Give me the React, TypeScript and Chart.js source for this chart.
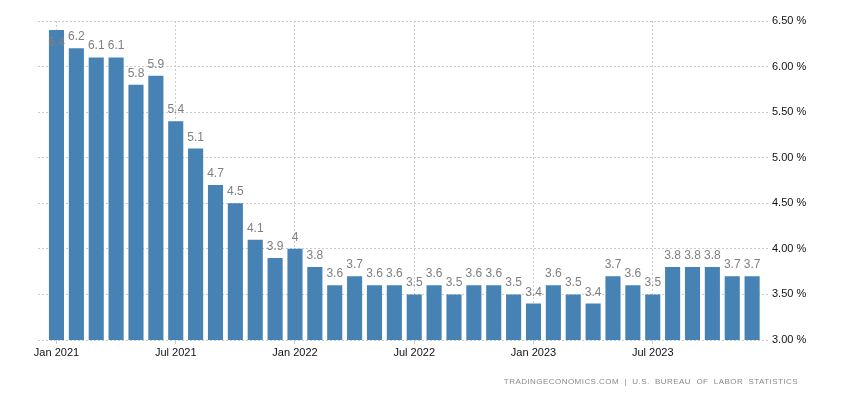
import React, { useEffect, useRef } from 'react';
import { Chart, registerables } from 'chart.js';

Chart.register(...registerables);

const months = [
  'Jan 2021', 'Feb 2021', 'Mar 2021', 'Apr 2021', 'May 2021', 'Jun 2021',
  'Jul 2021', 'Aug 2021', 'Sep 2021', 'Oct 2021', 'Nov 2021', 'Dec 2021',
  'Jan 2022', 'Feb 2022', 'Mar 2022', 'Apr 2022', 'May 2022', 'Jun 2022',
  'Jul 2022', 'Aug 2022', 'Sep 2022', 'Oct 2022', 'Nov 2022', 'Dec 2022',
  'Jan 2023', 'Feb 2023', 'Mar 2023', 'Apr 2023', 'May 2023', 'Jun 2023',
  'Jul 2023', 'Aug 2023', 'Sep 2023', 'Oct 2023', 'Nov 2023', 'Dec 2023',
];

const rates = [
  6.4, 6.2, 6.1, 6.1, 5.8, 5.9, 5.4, 5.1, 4.7, 4.5, 4.1, 3.9,
  4.0, 3.8, 3.6, 3.7, 3.6, 3.6, 3.5, 3.6, 3.5, 3.6, 3.6, 3.5,
  3.4, 3.6, 3.5, 3.4, 3.7, 3.6, 3.5, 3.8, 3.8, 3.8, 3.7, 3.7,
];

const xTickLabels = ['Jan 2021', 'Jul 2021', 'Jan 2022', 'Jul 2022', 'Jan 2023', 'Jul 2023'];
const yTicks = [3.0, 3.5, 4.0, 4.5, 5.0, 5.5, 6.0, 6.5];

const FONT = '"Liberation Sans", Arial, sans-serif';

const valueLabels = {
  id: 'valueLabels',
  afterDatasetsDraw(chart: any) {
    const ctx = chart.ctx;
    const meta = chart.getDatasetMeta(0);
    ctx.save();
    ctx.font = `12px ${FONT}`;
    ctx.fillStyle = '#808080';
    ctx.textAlign = 'center';
    ctx.textBaseline = 'alphabetic';
    meta.data.forEach((bar: any, i: number) => {
      let y = bar.y - 8;
      if (y - 9 < chart.chartArea.top) y = bar.y + 16;
      ctx.fillText(String(rates[i]), bar.x, y);
    });
    ctx.restore();
  },
};

export default function App() {
  const ref = useRef<HTMLCanvasElement | null>(null);

  useEffect(() => {
    if (!ref.current) return;
    const xTickIdx = xTickLabels.map((l) => months.indexOf(l));
    const chart = new Chart(ref.current, {
      type: 'bar',
      data: {
        datasets: [
          {
            data: rates.map((v, i) => ({ x: i, y: v })),
            backgroundColor: '#4682B4',
            borderWidth: 0,
            barPercentage: 0.76,
            categoryPercentage: 1,
          },
        ],
      },
      options: {
        animation: false,
        responsive: false,
        events: [],
        layout: { padding: { left: 38, top: 21, right: 0, bottom: 0 } },
        plugins: { legend: { display: false }, tooltip: { enabled: false } },
        scales: {
          x: {
            type: 'linear',
            min: -0.93,
            max: 35.9,
            offset: false,
            afterBuildTicks: (s: any) => {
              s.ticks = xTickIdx.map((v) => ({ value: v }));
            },
            afterFit: (s: any) => {
              s.height = 60;
            },
            ticks: {
              autoSkip: false,
              maxRotation: 0,
              padding: 2,
              color: '#111',
              font: { family: FONT, size: 11 },
              callback: (v: any) => months[Math.round(Number(v))] ?? '',
            },
            grid: { color: '#cccccc', tickLength: 4, offset: false },
            border: { display: false, dash: [2, 2] },
          },
          y: {
            position: 'right',
            min: 3,
            max: 6.5,
            afterBuildTicks: (s: any) => {
              s.ticks = yTicks.map((v) => ({ value: v }));
            },
            afterFit: (s: any) => {
              s.width = 80;
            },
            ticks: {
              padding: 2,
              color: '#111',
              font: { family: FONT, size: 11 },
              callback: (v: any) => Number(v).toFixed(2) + ' %',
            },
            grid: { color: '#cccccc', drawTicks: false },
            border: { display: false, dash: [2, 2] },
          },
        },
      },
      plugins: [valueLabels],
    } as any);
    return () => chart.destroy();
  }, []);

  return (
    <div style={{ position: 'fixed', left: 0, top: 0, width: 850, height: 400, background: '#fff' }}>
      <canvas ref={ref} width={850} height={400} style={{ display: 'block' }} />
      <div
        style={{
          position: 'absolute',
          right: 52,
          top: 377,
          fontFamily: FONT,
          fontSize: 8,
          letterSpacing: '0.45px',
          color: '#8a8a8a',
          whiteSpace: 'pre',
          lineHeight: '10px',
        }}
      >
        {'TRADINGECONOMICS.COM  |  U.S.  BUREAU  OF  LABOR  STATISTICS'}
      </div>
    </div>
  );
}
